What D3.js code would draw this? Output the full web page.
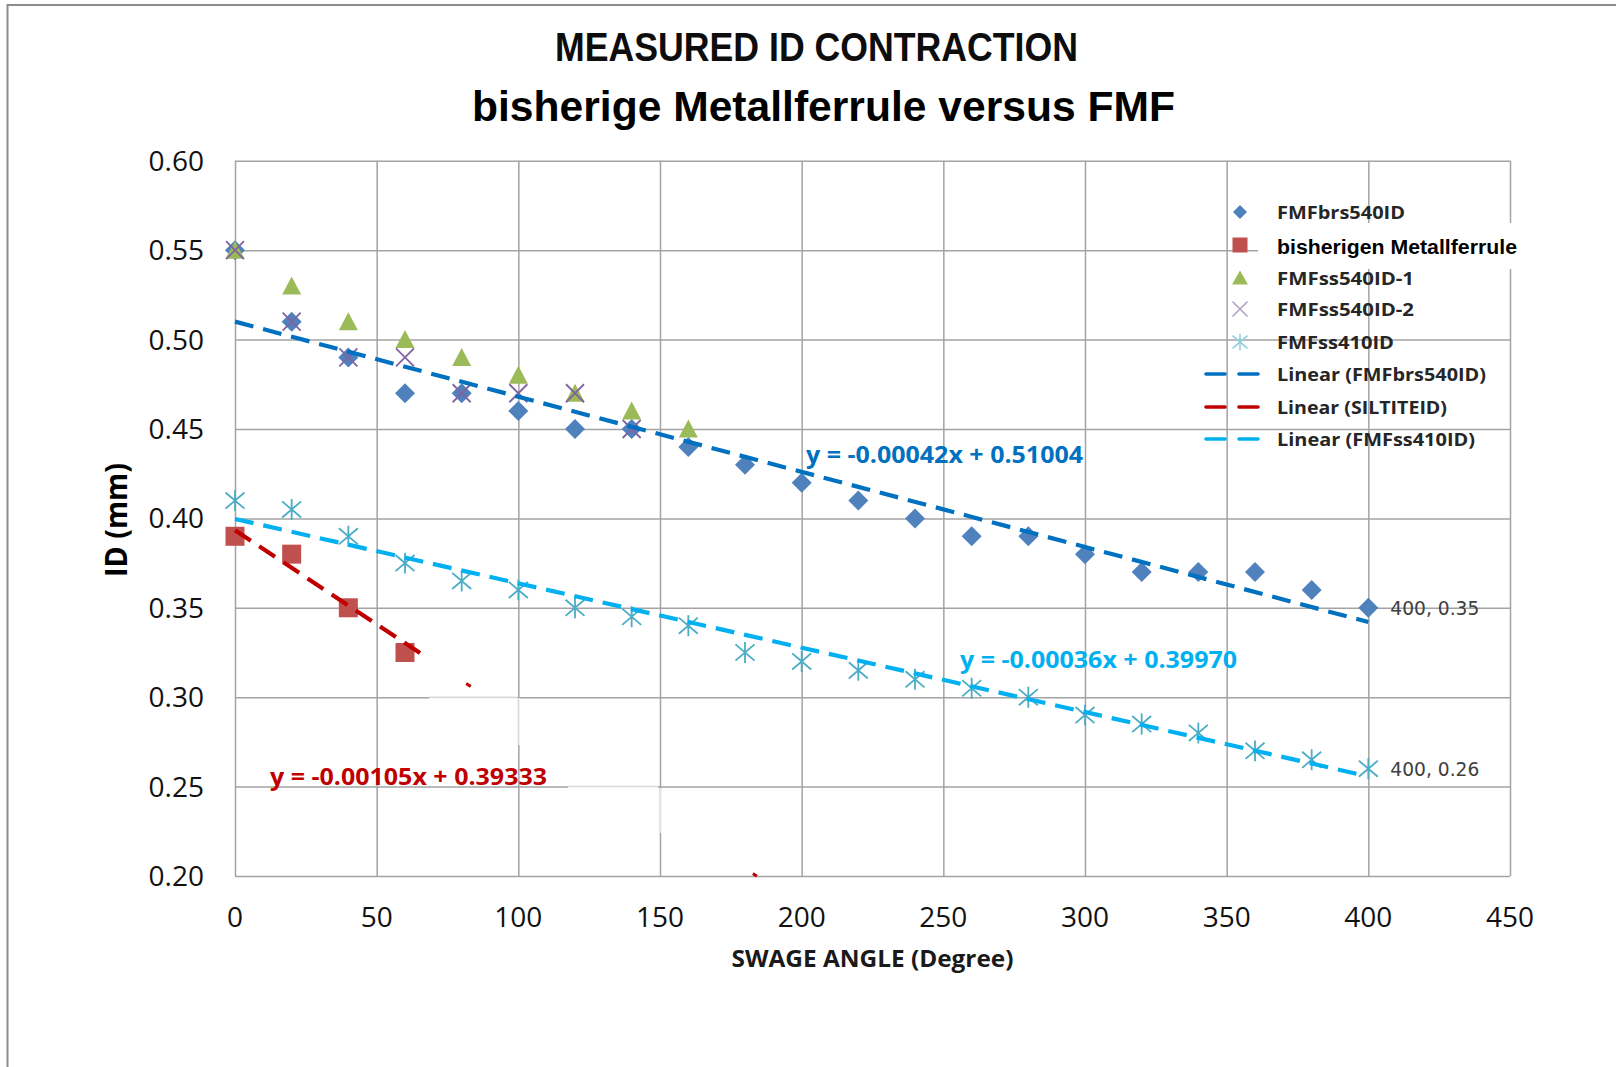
<!DOCTYPE html>
<html>
<head>
<meta charset="utf-8">
<script src="https://cdn.jsdelivr.net/npm/d3@7"></script>
<style>
  html, body { margin: 0; padding: 0; background: #fff; }
  svg { display: block; }
</style>
</head>
<body>
<svg id="chart" width="1616" height="1067"></svg>
<script>
// ---------------- data ----------------
const titleMain = "MEASURED ID CONTRACTION";
const titleSub = "bisherige Metallferrule versus FMF";
const xAxisTitle = "SWAGE ANGLE (Degree)";
const yAxisTitle = "ID (mm)";

const xTickValues = [0, 50, 100, 150, 200, 250, 300, 350, 400, 450];
const yTickValues = [0.20, 0.25, 0.30, 0.35, 0.40, 0.45, 0.50, 0.55, 0.60];
const yTickLabels = ["0.20", "0.25", "0.30", "0.35", "0.40", "0.45", "0.50", "0.55", "0.60"];

const anglesFull = [0, 20, 40, 60, 80, 100, 120, 140, 160, 180, 200, 220, 240, 260, 280, 300, 320, 340, 360, 380, 400];
const fmfBrs540ID = [0.55, 0.51, 0.49, 0.47, 0.47, 0.46, 0.45, 0.45, 0.44, 0.43, 0.42, 0.41, 0.40, 0.39, 0.39, 0.38, 0.37, 0.37, 0.37, 0.36, 0.35];

const anglesBisherigen = [0, 20, 40, 60];
const bisherigenMetallferrule = [0.39, 0.38, 0.35, 0.325];

const anglesSs540_1 = [0, 20, 40, 60, 80, 100, 120, 140, 160];
const fmfSs540ID_1 = [0.55, 0.53, 0.51, 0.50, 0.49, 0.48, 0.47, 0.46, 0.45];

const anglesSs540_2 = [0, 20, 40, 60, 80, 100, 120, 140];
const fmfSs540ID_2 = [0.55, 0.51, 0.49, 0.49, 0.47, 0.47, 0.47, 0.45];

const fmfSs410ID = [0.41, 0.405, 0.39, 0.375, 0.365, 0.36, 0.35, 0.345, 0.34, 0.325, 0.32, 0.315, 0.31, 0.305, 0.30, 0.29, 0.285, 0.28, 0.27, 0.265, 0.26];

const legendLabels = ["FMFbrs540ID", "bisherigen Metallferrule", "FMFss540ID-1", "FMFss540ID-2", "FMFss410ID",
  "Linear (FMFbrs540ID)", "Linear (SILTITEID)", "Linear (FMFss410ID)"];

// linear trendlines (as printed in the chart)
const trendNames = ["FMFbrs540ID", "SILTITEID", "FMFss410ID"];
const trendSlopes = [-0.00042, -0.00105, -0.00036];
const trendIntercepts = [0.51004, 0.39333, 0.39970];
const trendRanges = [[0, 400], [0, 68], [0, 397]];
const trendLabels = ["y = -0.00042x + 0.51004", "y = -0.00105x + 0.39333", "y = -0.00036x + 0.39970"];
// surviving fragments of the partially erased red trendline
const redFragments = [[81.6, 83.2], [182.8, 184.2]];

const dataLabels = [[400, 0.35, "400, 0.35"], [400, 0.26, "400, 0.26"]];

// ---------------- drawing ----------------
(function () {
const svg = d3.select("#chart");
const pLeft = 235, pRight = 1510, pTop = 160.8, pBottom = 876;
const x = d3.scaleLinear().domain([0, 450]).range([pLeft, pRight]);
const y = d3.scaleLinear().domain([0.2, 0.6]).range([pBottom, pTop]);

const gridColor = "#a3a3a3";
const cDiamond = "#4F81BD", cSquare = "#C0504D", cTri = "#9BBB59", cX = "#8064A2", cStar = "#4BACC6";
const cTrendBlue = "#0070C0", cTrendRed = "#C00000", cTrendCyan = "#00B0F0";
const trendColors = [cTrendBlue, cTrendRed, cTrendCyan];

// outer frame
svg.append("rect").attr("x", 7.5).attr("y", 5).attr("width", 1700).attr("height", 1200)
  .attr("fill", "none").attr("stroke", "#8c8c8c").attr("stroke-width", 2);

// titles
svg.append("text").text(titleMain)
  .attr("x", 816.5).attr("y", 61).attr("text-anchor", "middle")
  .attr("font-family", "Liberation Sans, Arial, sans-serif").attr("font-weight", "bold")
  .attr("font-size", 40).attr("textLength", 523).attr("lengthAdjust", "spacingAndGlyphs").attr("fill", "#0d0d0d");
svg.append("text").text(titleSub)
  .attr("x", 823.5).attr("y", 121).attr("text-anchor", "middle")
  .attr("font-family", "Liberation Sans, Arial, sans-serif").attr("font-weight", "bold")
  .attr("font-size", 43).attr("textLength", 703).attr("lengthAdjust", "spacingAndGlyphs").attr("fill", "#000");

// gridlines via axes
const gx = svg.append("g").attr("transform", `translate(0,${pBottom})`)
  .call(d3.axisBottom(x).tickValues(xTickValues).tickSize(-(pBottom - pTop)).tickFormat(""));
const gy = svg.append("g").attr("transform", `translate(${pLeft},0)`)
  .call(d3.axisLeft(y).tickValues(yTickValues).tickSize(-(pRight - pLeft)).tickFormat(""));
[gx, gy].forEach(g => {
  g.select(".domain").remove();
  g.selectAll("line").attr("stroke", gridColor).attr("stroke-width", 1.5);
});

// erased patches (lighter gridline segments where the red trendline was painted out)
const light = "#dadada";
function patchH(val, a, b) {
  svg.append("line").attr("x1", a).attr("x2", b).attr("y1", y(val)).attr("y2", y(val))
    .attr("stroke", "#fff").attr("stroke-width", 3);
  svg.append("line").attr("x1", a).attr("x2", b).attr("y1", y(val)).attr("y2", y(val))
    .attr("stroke", light).attr("stroke-width", 1.5);
}
function patchV(val, a, b) {
  svg.append("line").attr("x1", x(val)).attr("x2", x(val)).attr("y1", a).attr("y2", b)
    .attr("stroke", "#fff").attr("stroke-width", 3);
  svg.append("line").attr("x1", x(val)).attr("x2", x(val)).attr("y1", a).attr("y2", b)
    .attr("stroke", light).attr("stroke-width", 1.5);
}
patchH(0.30, 429, 517);
patchV(100, 698, 745);
patchH(0.25, 568, 658);
patchV(150, 788, 833);

// tick labels
svg.append("g").selectAll("text").data(yTickValues).join("text")
  .attr("x", 204).attr("y", d => y(d) + 10).attr("text-anchor", "end")
  .attr("font-family", "Open Sans, sans-serif").attr("font-size", 28).attr("fill", "#111")
  .text((d, i) => yTickLabels[i]);
svg.append("g").selectAll("text").data(xTickValues).join("text")
  .attr("x", d => x(d)).attr("y", 927).attr("text-anchor", "middle")
  .attr("font-family", "Open Sans, sans-serif").attr("font-size", 28).attr("fill", "#111")
  .text(d => d);

// axis titles
svg.append("text").text(xAxisTitle)
  .attr("x", 872.5).attr("y", 967).attr("text-anchor", "middle")
  .attr("font-family", "Open Sans, sans-serif").attr("font-weight", "bold").attr("font-size", 23)
  .attr("textLength", 282).attr("lengthAdjust", "spacingAndGlyphs").attr("fill", "#1a1a1a");
svg.append("text").text(yAxisTitle)
  .attr("transform", "translate(127,520) rotate(-90)").attr("text-anchor", "middle")
  .attr("font-family", "Open Sans, sans-serif").attr("font-weight", "bold").attr("font-size", 30)
  .attr("textLength", 114).attr("lengthAdjust", "spacingAndGlyphs").attr("fill", "#000");

// marker shapes
const diamondPath = r => `M0,${-r}L${r},0L0,${r}L${-r},0Z`;
const squarePath = s => `M${-s/2},${-s/2}h${s}v${s}h${-s}Z`;
const triPath = (w, h) => `M0,${-h/2 - 1}L${w/2},${h/2}L${-w/2},${h/2}Z`;
const xPath = r => `M${-r},${-r}L${r},${r}M${-r},${r}L${r},${-r}`;
const starPath = r => `M${-r},${-r * 0.85}L${r},${r * 0.85}M${-r},${r * 0.85}L${r},${-r * 0.85}M0,${-r * 1.1}L0,${r * 1.1}`;

const plot = svg.append("g");
function pts(xs, ys) { return xs.map((a, i) => [a, ys[i]]); }

plot.append("g").selectAll("path").data(pts(anglesFull, fmfBrs540ID)).join("path")
  .attr("transform", d => `translate(${x(d[0])},${y(d[1])})`).attr("d", diamondPath(10)).attr("fill", cDiamond);
plot.append("g").selectAll("path").data(pts(anglesBisherigen, bisherigenMetallferrule)).join("path")
  .attr("transform", d => `translate(${x(d[0])},${y(d[1])})`).attr("d", squarePath(19)).attr("fill", cSquare);
plot.append("g").selectAll("path").data(pts(anglesSs540_1, fmfSs540ID_1)).join("path")
  .attr("transform", d => `translate(${x(d[0])},${y(d[1])})`).attr("d", triPath(19, 17)).attr("fill", cTri);
plot.append("g").selectAll("path").data(pts(anglesSs540_2, fmfSs540ID_2)).join("path")
  .attr("transform", d => `translate(${x(d[0])},${y(d[1])})`).attr("d", xPath(9))
  .attr("fill", "none").attr("stroke", cX).attr("stroke-width", 1.8);
plot.append("g").selectAll("path").data(pts(anglesFull, fmfSs410ID)).join("path")
  .attr("transform", d => `translate(${x(d[0])},${y(d[1])})`).attr("d", starPath(9.5))
  .attr("fill", "none").attr("stroke", cStar).attr("stroke-width", 1.8);

// trendlines
const lineGen = d3.line().x(d => x(d[0])).y(d => y(d[1]));
trendSlopes.forEach((m, i) => {
  const [a, b] = trendRanges[i];
  plot.append("path").datum([[a, m * a + trendIntercepts[i]], [b, m * b + trendIntercepts[i]]])
    .attr("d", lineGen).attr("fill", "none").attr("stroke", trendColors[i])
    .attr("stroke-width", 4.2).attr("stroke-dasharray", "19,10");
});
redFragments.forEach(([a, b]) => {
  plot.append("path").datum([[a, trendSlopes[1] * a + trendIntercepts[1]], [b, trendSlopes[1] * b + trendIntercepts[1]]])
    .attr("d", lineGen).attr("fill", "none").attr("stroke", cTrendRed).attr("stroke-width", 3);
});

// trendline equations
const eqPos = [[806, 463], [270, 785], [960, 668]];
trendLabels.forEach((t, i) => {
  svg.append("text").text(t).attr("x", eqPos[i][0]).attr("y", eqPos[i][1])
    .attr("font-family", "Open Sans, sans-serif").attr("font-weight", "bold").attr("font-size", 23.5)
    .attr("textLength", 277).attr("lengthAdjust", "spacingAndGlyphs").attr("fill", trendColors[i]);
});

// data labels
svg.append("g").selectAll("text").data(dataLabels).join("text")
  .attr("x", d => x(d[0]) + 22).attr("y", d => y(d[1]) + 7.5)
  .attr("font-family", "DejaVu Sans, sans-serif").attr("font-size", 19).attr("fill", "#404040")
  .attr("textLength", 89).attr("lengthAdjust", "spacingAndGlyphs")
  .text(d => d[2]);

// legend
const legRowY = [212, 246, 278, 309, 342, 374, 407, 439];
const legTextW = [128, 240, 137, 137, 117, 209, 170, 198];
const lg = svg.append("g");
lg.append("rect").attr("x", 1258).attr("y", 223).attr("width", 262).attr("height", 46).attr("fill", "#fff");
const mx = 1240;
lg.append("path").attr("transform", `translate(${mx},${legRowY[0]})`).attr("d", diamondPath(7)).attr("fill", cDiamond);
lg.append("path").attr("transform", `translate(${mx},${legRowY[1] - 1})`).attr("d", squarePath(15)).attr("fill", cSquare);
lg.append("path").attr("transform", `translate(${mx},${legRowY[2]})`).attr("d", triPath(16, 13)).attr("fill", cTri);
lg.append("path").attr("transform", `translate(${mx},${legRowY[3]})`).attr("d", xPath(7.5))
  .attr("fill", "none").attr("stroke", "#b3a2c7").attr("stroke-width", 1.6);
lg.append("path").attr("transform", `translate(${mx},${legRowY[4]})`).attr("d", starPath(7.5))
  .attr("fill", "none").attr("stroke", "#92cddc").attr("stroke-width", 1.6);
[cTrendBlue, cTrendRed, cTrendCyan].forEach((c, i) => {
  lg.append("line").attr("x1", 1206).attr("x2", 1259).attr("y1", legRowY[5 + i]).attr("y2", legRowY[5 + i])
    .attr("stroke", c).attr("stroke-width", 3.6).attr("stroke-dasharray", "19,14").attr("stroke-linecap", "round");
});
legendLabels.forEach((t, i) => {
  const special = i === 1;
  lg.append("text").text(t).attr("x", 1277).attr("y", legRowY[i] + (special ? 7.5 : 7))
    .attr("font-family", special ? "Liberation Sans, Arial, sans-serif" : "Open Sans, sans-serif")
    .attr("font-weight", "bold").attr("font-size", special ? 19.5 : 18.5)
    .attr("textLength", legTextW[i]).attr("lengthAdjust", "spacingAndGlyphs")
    .attr("fill", special ? "#000" : "#262626");
});
})();
</script>
</body>
</html>
